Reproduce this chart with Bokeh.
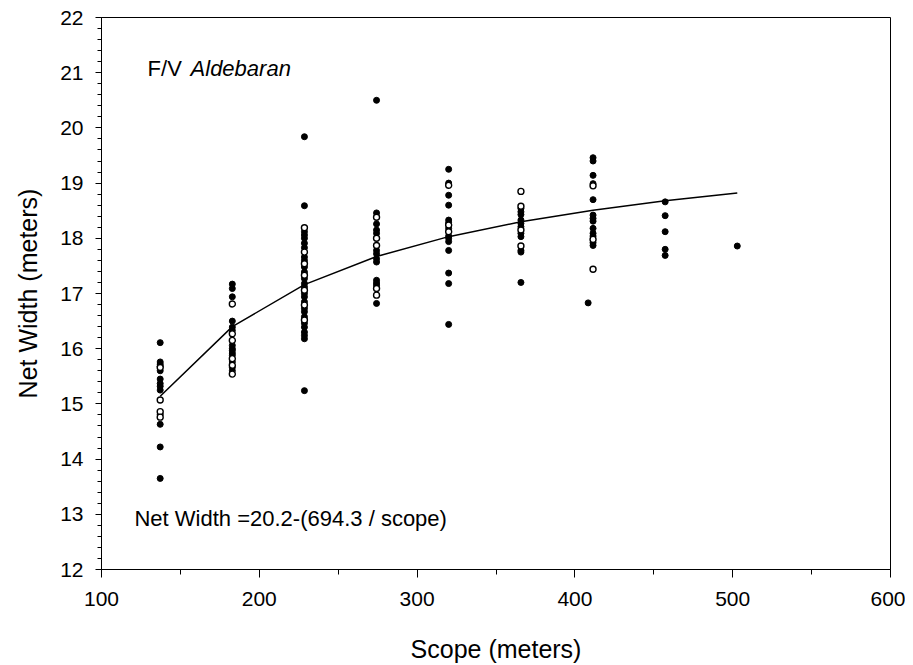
from bokeh.plotting import figure
from bokeh.models import Range1d, SingleIntervalTicker, Label
from bokeh.embed import file_html
from bokeh.resources import INLINE

# Scope (meters) for each cluster of hauls
scopes = [137.2, 182.9, 228.6, 274.3, 320.0, 365.8, 408.4, 411.5, 457.2, 502.9]

# Net width (meters), filled markers, per cluster
filled = [
    [16.11, 15.76, 15.72, 15.68, 15.60, 15.45, 15.37, 15.32, 15.25, 14.81, 14.63, 14.22, 13.65],
    [17.17, 17.09, 16.94, 16.50, 16.39, 16.33, 16.06, 16.00, 15.97, 15.92, 15.88, 15.76, 15.66, 15.60],
    [19.84, 18.59, 18.12, 18.06, 18.00, 17.91, 17.83, 17.66, 17.60, 17.48, 17.39, 17.27, 17.18,
     17.12, 17.00, 16.94, 16.85, 16.73, 16.67, 16.58, 16.46, 16.39, 16.30, 16.24, 16.18, 15.24],
    [20.50, 18.46, 18.26, 18.15, 18.09, 17.78, 17.72, 17.63, 17.57, 17.24, 17.19, 17.15, 16.82],
    [19.25, 19.00, 18.78, 18.60, 18.33, 18.28, 18.18, 18.04, 18.00, 17.94, 17.78, 17.37, 17.18, 16.44],
    [18.54, 18.48, 18.43, 18.33, 18.27, 18.21, 18.09, 18.03, 17.78, 17.75, 17.20],
    [16.83],
    [19.46, 19.40, 19.14, 18.99, 18.70, 18.42, 18.36, 18.31, 18.18, 18.09, 18.04, 17.92, 17.87],
    [18.66, 18.41, 18.12, 17.80, 17.69],
    [17.86],
]

# Net width (meters), open markers, per cluster
hollow = [
    [15.66, 15.07, 14.86, 14.76],
    [16.81, 16.27, 16.15, 15.82, 15.70, 15.54],
    [18.19, 17.75, 17.54, 17.33, 17.06, 16.79, 16.52],
    [18.38, 18.00, 17.87, 17.09, 16.97],
    [18.96, 18.24, 18.12],
    [18.85, 18.58, 18.15, 17.86],
    [],
    [18.95, 17.98, 17.44],
    [],
    [],
]

# Fitted curve: Net Width = 20.2 - (694.3 / scope)
fit_scope = [137.2, 182.9, 228.6, 274.3, 320.0, 365.8, 411.5, 457.2, 502.9]
fit_width = [15.14, 16.40, 17.16, 17.67, 18.03, 18.30, 18.51, 18.68, 18.82]

x_ticks_interval = 100
y_ticks_interval = 1

FONT = "Liberation Sans"

fx, fy, hx, hy = [], [], [], []
for s, fl, hl in zip(scopes, filled, hollow):
    fx += [s] * len(fl)
    fy += fl
    hx += [s] * len(hl)
    hy += hl

p = figure(width=905, height=665, output_backend="svg", toolbar_location=None,
           x_range=Range1d(100, 600), y_range=Range1d(12, 22),
           min_border_left=101, min_border_right=15, min_border_top=17, min_border_bottom=96)

p.xgrid.visible = False
p.ygrid.visible = False
p.outline_line_color = "black"
p.outline_line_alpha = 1.0
p.outline_line_width = 1
p.background_fill_color = "white"
p.border_fill_color = "white"

p.xaxis.ticker = SingleIntervalTicker(interval=x_ticks_interval, num_minor_ticks=2)
p.yaxis.ticker = SingleIntervalTicker(interval=y_ticks_interval, num_minor_ticks=5)

for ax in (p.xaxis[0], p.yaxis[0]):
    ax.axis_line_color = "black"
    ax.major_tick_line_color = "black"
    ax.minor_tick_line_color = "black"
    ax.major_tick_in = 0
    ax.minor_tick_in = 0
    ax.major_label_text_font = FONT
    ax.major_label_text_font_size = "21px"
    ax.major_label_text_color = "black"
    ax.axis_label_text_font = FONT
    ax.axis_label_text_font_size = "25px"
    ax.axis_label_text_font_style = "normal"
    ax.axis_label_text_color = "black"

p.xaxis.major_tick_out = 8
p.xaxis.minor_tick_out = 5
p.yaxis.major_tick_out = 6
p.yaxis.minor_tick_out = 4
p.xaxis.major_label_standoff = 14
p.yaxis.major_label_standoff = 12
p.xaxis.axis_label = "Scope (meters)"
p.yaxis.axis_label = "Net Width (meters)"
p.xaxis.axis_label_standoff = 26
p.yaxis.axis_label_standoff = 15

p.line(fit_scope, fit_width, line_color="black", line_width=1.5)
p.scatter(fx, fy, size=6, fill_color="black", line_color="black", line_width=1)
p.scatter(hx, hy, size=6, fill_color="white", line_color="black", line_width=1.4)

p.add_layout(Label(x=129.2, y=21.08, text="F/V", text_font=FONT, text_font_size="22px",
                   text_color="black", text_baseline="alphabetic"))
p.add_layout(Label(x=129.2, y=21.08, x_offset=43, text="Aldebaran", text_font=FONT,
                   text_font_size="22px", text_font_style="italic",
                   text_color="black", text_baseline="alphabetic"))
p.add_layout(Label(x=120.9, y=12.92, text="Net Width =20.2-(694.3 / scope)", text_font=FONT,
                   text_font_size="22px", text_color="black", text_baseline="alphabetic"))

open("out.html", "w").write(file_html(p, INLINE))
